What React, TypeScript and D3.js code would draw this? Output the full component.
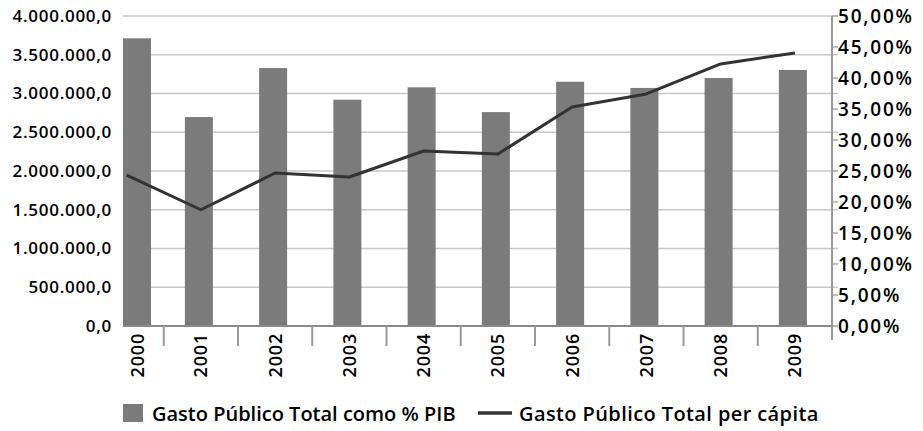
import React from "react";
import * as d3 from "d3";

const years = ["2000","2001","2002","2003","2004","2005","2006","2007","2008","2009"];
// Gasto Público Total como % PIB (bars, right axis, %)
const pctPIB = [46.4, 33.7, 41.6, 36.5, 38.5, 34.5, 39.4, 38.4, 40.0, 41.3];
// Gasto Público Total per cápita (line, left axis)
const perCapita = [1948000, 1500000, 1974000, 1923000, 2258000, 2219000, 2826000, 2994000, 3381000, 3523000];
const leftTicks = [0, 500000, 1000000, 1500000, 2000000, 2500000, 3000000, 3500000, 4000000];
const rightTicks = [0, 5, 10, 15, 20, 25, 30, 35, 40, 45, 50];
const legendBar = "Gasto Público Total como % PIB";
const legendLine = "Gasto Público Total per cápita";

const W = 923, H = 431;
const plotLeft = 123, plotRight = 832, plotTop = 16, plotBottom = 326;
const FONT = "'Open Sans', sans-serif";

const fmtLeft = (v: number) => {
  const s = d3.format(",.1f")(v);
  return s.replace(/,/g, "#").replace(/\./g, ",").replace(/#/g, ".");
};
const fmtRight = (v: number) => v.toFixed(2).replace(".", ",") + "%";

export default function App() {
  const x = d3.scaleBand<string>().domain(years).range([89.5, plotRight]).paddingInner(0).paddingOuter(0);
  const yL = d3.scaleLinear().domain([0, 4000000]).range([plotBottom, plotTop]);
  const yR = d3.scaleLinear().domain([0, 50]).range([plotBottom, plotTop]);
  const bw = 28;
  const cx = (y: string) => (x(y) as number) + x.bandwidth() / 2;

  const line = d3.line<number>()
    .x((_, i) => Math.max(cx(years[i]), plotLeft))
    .y((d) => yL(d));

  const boundaries = years.map((y) => (x(y) as number) + x.bandwidth());

  return (
    <svg width={W} height={H} style={{ position: "absolute", left: 0, top: 0, background: "#fff" }} fontFamily={FONT}>
      {/* gridlines */}
      {leftTicks.map((t) => (
        <line key={"g" + t} x1={plotLeft} x2={plotRight + 6} y1={yL(t)} y2={yL(t)} stroke="#c8c8c8" strokeWidth={1.6} />
      ))}
      {/* right axis ticks */}
      {rightTicks.map((t) => (
        <line key={"rt" + t} x1={plotRight} x2={plotRight + 6} y1={yR(t)} y2={yR(t)} stroke="#aaa" strokeWidth={1.5} />
      ))}
      {/* bars */}
      {years.map((y, i) => {
        const bx = Math.max(cx(y) - bw / 2 - 2, plotLeft);
        return (
          <rect key={"b" + y} x={bx} width={bw} y={yR(pctPIB[i])} height={plotBottom - yR(pctPIB[i])} fill="#7b7b7b" />
        );
      })}
      {/* x axis */}
      <line x1={plotLeft} x2={plotRight} y1={plotBottom} y2={plotBottom} stroke="#8a8a8a" strokeWidth={2} />
      {boundaries.map((b, i) => (
        <line key={"xt" + i} x1={b} x2={b} y1={plotBottom} y2={i === boundaries.length - 1 ? 340 : 346} stroke="#999" strokeWidth={2} />
      ))}
      {/* right axis line */}
      <line x1={plotRight} x2={plotRight} y1={plotTop} y2={plotBottom + 4} stroke="#999" strokeWidth={2} />
      {/* line series */}
      <path d={line(perCapita) as string} fill="none" stroke="#333" strokeWidth={3} strokeLinejoin="round" />
      {/* left labels */}
      {leftTicks.map((t) => (
        <text key={"ll" + t} x={112} y={yL(t)} dy="0.35em" textAnchor="end" fontSize={17} fontWeight={600} letterSpacing={0.7} fill="#000">
          {fmtLeft(t)}
        </text>
      ))}
      {/* right labels */}
      {rightTicks.map((t) => (
        <text key={"rl" + t} x={838} y={yR(t)} dy="0.35em" textAnchor="start" fontSize={19} fontWeight={600} letterSpacing={1.8} fill="#000">
          {fmtRight(t)}
        </text>
      ))}
      {/* year labels */}
      {years.map((y) => {
        const px = Math.max(cx(y), plotLeft + 15);
        return (
          <text key={"yl" + y} transform={`translate(${px},${333}) rotate(-90)`} dy="0.36em" textAnchor="end" fontSize={18} fontWeight={600} letterSpacing={0.8} fill="#000">
            {y}
          </text>
        );
      })}
      {/* legend */}
      <rect x={123} y={404} width={20} height={18} fill="#7b7b7b" />
      <text x={152} y={421} fontSize={20} fontWeight={600} fill="#000">{legendBar}</text>
      <line x1={478} x2={512} y1={413} y2={413} stroke="#333" strokeWidth={3.5} />
      <text x={519} y={421} fontSize={20} fontWeight={600} letterSpacing={0.4} fill="#000">{legendLine}</text>
    </svg>
  );
}
